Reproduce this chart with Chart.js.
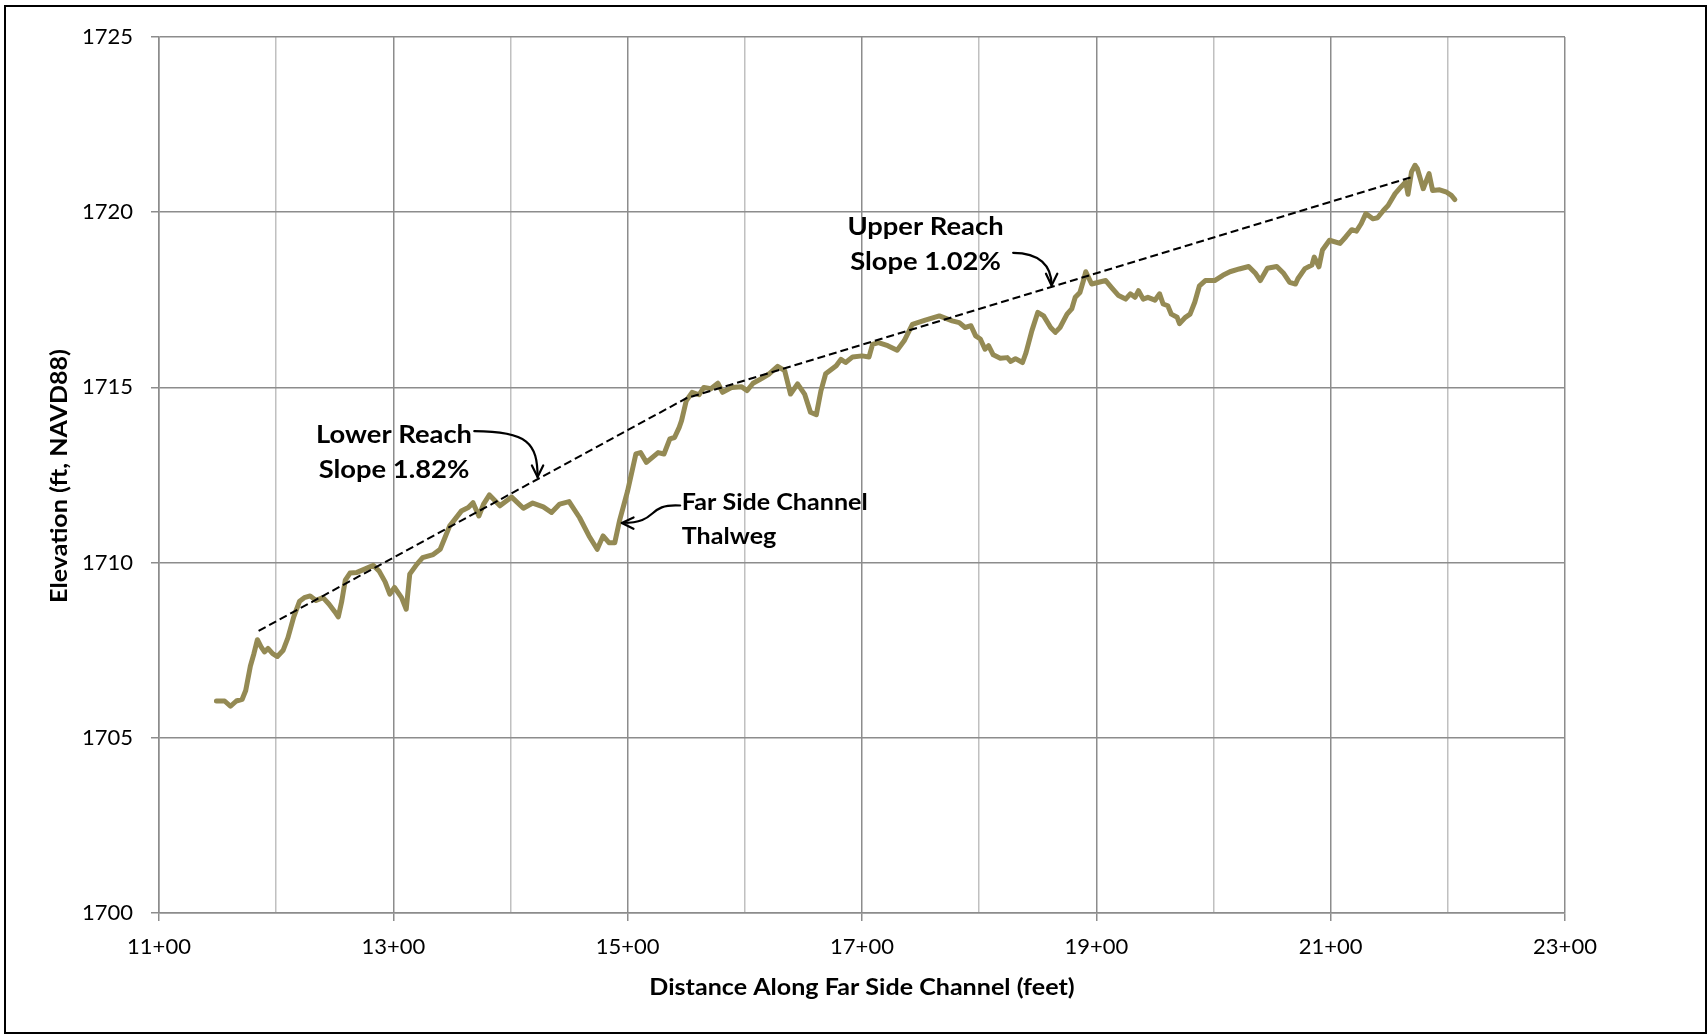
<!DOCTYPE html>
<html>
<head>
<meta charset="utf-8">
<title>Far Side Channel Thalweg Profile</title>
<script src="https://cdn.jsdelivr.net/npm/chart.js@4.4.1/dist/chart.umd.min.js"></script>
<style>
  html, body { margin: 0; padding: 0; background: #fff; }
  canvas { display: block; }
</style>
</head>
<body>
<canvas id="profile" width="1708" height="1035"></canvas>
<script>
// Surveyed thalweg: distance along channel (ft) and bed elevation (ft, NAVD88)
const distances = [
  1149, 1156, 1161, 1166, 1171, 1174, 1178, 1181, 1184, 1187,
  1190, 1193, 1197, 1201, 1206, 1210, 1215, 1220, 1224, 1229,
  1234, 1240, 1245, 1250, 1253, 1256, 1259, 1263, 1269, 1276,
  1283, 1288, 1293, 1297, 1301, 1307, 1311, 1314, 1320, 1325,
  1334, 1340, 1344, 1348, 1358, 1364, 1368, 1373, 1377, 1382,
  1391, 1401, 1411, 1419, 1428, 1435, 1442, 1450, 1459, 1467,
  1474, 1479, 1484, 1489, 1493, 1500, 1507, 1511, 1516, 1526,
  1531, 1536, 1540, 1544, 1546, 1550, 1555, 1561, 1565, 1571,
  1577, 1581, 1589, 1597, 1602, 1607, 1612, 1616, 1621, 1628,
  1634, 1639, 1645, 1651, 1656, 1661, 1665, 1669, 1678, 1682,
  1686, 1692, 1700, 1706, 1709, 1714, 1722, 1730, 1736, 1743,
  1754, 1766, 1777, 1783, 1788, 1793, 1797, 1801, 1805, 1808,
  1812, 1818, 1824, 1827, 1831, 1837, 1840, 1845, 1850, 1855,
  1861, 1865, 1869, 1875, 1879, 1882, 1886, 1889, 1891, 1896,
  1902, 1908, 1913, 1919, 1925, 1929, 1933, 1936, 1940, 1944,
  1950, 1954, 1957, 1961, 1964, 1969, 1971, 1976, 1980, 1984,
  1988, 1993, 2001, 2008, 2014, 2022, 2030, 2036, 2040, 2046,
  2054, 2060, 2065, 2070, 2072, 2078, 2084, 2086, 2090, 2093,
  2099, 2108, 2113, 2118, 2122, 2126, 2130, 2136, 2140, 2145,
  2149, 2155, 2160, 2164, 2166, 2169, 2172, 2174, 2179, 2184,
  2187, 2193, 2199, 2203, 2206
];
const elevations = [
  1706.05, 1706.05, 1705.90, 1706.05, 1706.10, 1706.35, 1707.05, 1707.40, 1707.80, 1707.60,
  1707.45, 1707.55, 1707.40, 1707.32, 1707.50, 1707.85, 1708.45, 1708.90, 1709.00, 1709.05,
  1708.92, 1709.00, 1708.82, 1708.60, 1708.45, 1708.90, 1709.50, 1709.70, 1709.72, 1709.82,
  1709.92, 1709.75, 1709.45, 1709.10, 1709.29, 1709.00, 1708.67, 1709.67, 1709.95, 1710.14,
  1710.23, 1710.38, 1710.71, 1711.04, 1711.47, 1711.57, 1711.71, 1711.33, 1711.67, 1711.93,
  1711.62, 1711.87, 1711.55, 1711.70, 1711.59, 1711.43, 1711.67, 1711.74, 1711.28, 1710.76,
  1710.38, 1710.76, 1710.57, 1710.57, 1711.19, 1712.05, 1713.10, 1713.14, 1712.86, 1713.14,
  1713.10, 1713.53, 1713.57, 1713.86, 1714.05, 1714.62, 1714.86, 1714.79, 1715.00, 1714.96,
  1715.12, 1714.86, 1715.00, 1715.02, 1714.91, 1715.12, 1715.21, 1715.29, 1715.39, 1715.60,
  1715.48, 1714.81, 1715.10, 1714.81, 1714.29, 1714.22, 1714.91, 1715.39, 1715.62, 1715.80,
  1715.71, 1715.87, 1715.90, 1715.87, 1716.23, 1716.28, 1716.19, 1716.06, 1716.33, 1716.80,
  1716.92, 1717.04, 1716.90, 1716.85, 1716.71, 1716.76, 1716.47, 1716.38, 1716.09, 1716.19,
  1715.93, 1715.83, 1715.85, 1715.74, 1715.82, 1715.71, 1715.99, 1716.62, 1717.14, 1717.04,
  1716.71, 1716.57, 1716.71, 1717.09, 1717.24, 1717.57, 1717.71, 1718.05, 1718.30, 1717.95,
  1718.00, 1718.05, 1717.85, 1717.62, 1717.52, 1717.67, 1717.57, 1717.76, 1717.52, 1717.57,
  1717.49, 1717.67, 1717.38, 1717.33, 1717.09, 1717.00, 1716.82, 1717.00, 1717.09, 1717.43,
  1717.90, 1718.05, 1718.05, 1718.20, 1718.30, 1718.38, 1718.45, 1718.25, 1718.05, 1718.40,
  1718.45, 1718.25, 1718.00, 1717.95, 1718.10, 1718.39, 1718.49, 1718.72, 1718.44, 1718.92,
  1719.20, 1719.11, 1719.30, 1719.50, 1719.46, 1719.67, 1719.96, 1719.81, 1719.84, 1720.05,
  1720.19, 1720.53, 1720.72, 1720.86, 1720.51, 1721.15, 1721.34, 1721.24, 1720.67, 1721.10,
  1720.62, 1720.64, 1720.57, 1720.48, 1720.36
];

// Reach slope lines: lower reach 1.82 %, upper reach 1.02 %
const slopeDistances = [1185, 1550, 2170];
const slopeElevations = [1708.05, 1714.69, 1721.01];

// Station labels shown on every other 100-ft gridline
const stationValues = [1100, 1300, 1500, 1700, 1900, 2100, 2300];
const stationLabels = ['11+00', '13+00', '15+00', '17+00', '19+00', '21+00', '23+00'];

const xTitle = 'Distance Along Far Side Channel (feet)';
const yTitle = 'Elevation (ft, NAVD88)';

// Callout text and leader arrows, anchored in data units
const callouts = [
  { lines: ['Lower Reach', 'Slope 1.82%'], x: 1300.6, y: [1713.40, 1712.41], align: 'center', size: 24 },
  { lines: ['Upper Reach', 'Slope 1.02%'], x: 1754.2, y: [1719.34, 1718.34], align: 'center', size: 24 },
  { lines: ['Far Side Channel', 'Thalweg'], x: 1546.2, y: [1711.51, 1710.54], align: 'left', size: 22 }
];
const leaders = [
  { from: [1369.1, 1713.75], c1: [1415.0, 1713.75], c2: [1423.1, 1713.40], to: [1423.1, 1712.44] },
  { from: [1829.0, 1718.84], c1: [1851.2, 1718.84], c2: [1861.9, 1718.48], to: [1861.8, 1717.91] },
  { from: [1544.8, 1711.63], c1: [1514.9, 1711.69], c2: [1527.7, 1711.12], to: [1495.0, 1711.13] }
];

const GRID_MAJOR = '#8c8c8c';
const GRID_MINOR = '#c0c0c0';
const FONT = 'Lato, "Liberation Sans", sans-serif';
const BOLD_STRETCH = 1.14;   // widen bold faces to the heavier headline proportions

function wideText(ctx, text, x, y, align, rotate) {
  ctx.save();
  ctx.translate(x, y);
  if (rotate) ctx.rotate(rotate);
  ctx.scale(BOLD_STRETCH, 1);
  ctx.textAlign = align;
  ctx.fillText(text, 0, 0);
  ctx.restore();
}

const calloutPlugin = {
  id: 'callouts',
  afterDatasetsDraw(chart) {
    const { ctx, scales: { x, y } } = chart;
    ctx.save();
    ctx.fillStyle = '#000';
    ctx.textBaseline = 'alphabetic';
    callouts.forEach(c => {
      ctx.font = `bold ${c.size}px ${FONT}`;
      c.lines.forEach((t, i) => {
        wideText(ctx, t, x.getPixelForValue(c.x), y.getPixelForValue(c.y[i]), c.align, 0);
      });
    });
    ctx.strokeStyle = '#000';
    ctx.lineWidth = 2.2;
    ctx.lineCap = 'round';
    ctx.lineJoin = 'round';
    leaders.forEach(a => {
      const p = pt => [x.getPixelForValue(pt[0]), y.getPixelForValue(pt[1])];
      const [x0, y0] = p(a.from), [x1, y1] = p(a.c1), [x2, y2] = p(a.c2), [x3, y3] = p(a.to);
      ctx.beginPath();
      ctx.moveTo(x0, y0);
      ctx.bezierCurveTo(x1, y1, x2, y2, x3, y3);
      ctx.stroke();
      const ang = Math.atan2(y3 - y2, x3 - x2);
      const len = 13, spread = 0.45;
      ctx.beginPath();
      ctx.moveTo(x3 - len * Math.cos(ang - spread), y3 - len * Math.sin(ang - spread));
      ctx.lineTo(x3, y3);
      ctx.lineTo(x3 - len * Math.cos(ang + spread), y3 - len * Math.sin(ang + spread));
      ctx.stroke();
    });
    ctx.restore();
  },
  afterDraw(chart) {
    const { ctx, chartArea } = chart;
    ctx.save();
    // axis titles
    ctx.fillStyle = '#000';
    ctx.font = `bold 22px ${FONT}`;
    ctx.textBaseline = 'middle';
    wideText(ctx, xTitle, (chartArea.left + chartArea.right) / 2, 988, 'center', 0);
    wideText(ctx, yTitle, 60, (chartArea.top + chartArea.bottom) / 2 + 1, 'center', -Math.PI / 2);
    // outer frame
    ctx.strokeStyle = '#000';
    ctx.lineWidth = 2;
    ctx.strokeRect(5, 6, 1701, 1027);
    ctx.restore();
  }
};

const backgroundPlugin = {
  id: 'whiteBackground',
  beforeDraw(chart) {
    const ctx = chart.ctx;
    ctx.save();
    ctx.fillStyle = '#fff';
    ctx.fillRect(0, 0, chart.width, chart.height);
    ctx.restore();
  }
};

const isLabeled = v => stationValues.includes(Math.round(v));

new Chart(document.getElementById('profile'), {
  type: 'scatter',
  data: {
    datasets: [
      {
        label: 'Reach Slope',
        data: slopeDistances.map((d, i) => ({ x: d, y: slopeElevations[i] })),
        showLine: true,
        borderColor: '#000',
        borderWidth: 2,
        borderDash: [8, 4],
        pointRadius: 0,
        fill: false
      },
      {
        label: 'Far Side Channel Thalweg',
        data: distances.map((d, i) => ({ x: d, y: elevations[i] })),
        showLine: true,
        borderColor: '#948A54',
        borderWidth: 5,
        borderJoinStyle: 'round',
        borderCapStyle: 'round',
        pointRadius: 0,
        tension: 0,
        fill: false
      }
    ]
  },
  options: {
    responsive: false,
    animation: false,
    events: [],
    layout: { padding: { left: 0, top: 37, right: 143, bottom: 0 } },
    plugins: { legend: { display: false }, tooltip: { enabled: false } },
    scales: {
      x: {
        type: 'linear',
        min: 1100,
        max: 2300,
        afterFit(scale) { scale.height = 122; },
        ticks: {
          stepSize: 100,
          autoSkip: false,
          maxRotation: 0,
          padding: 13,
          color: '#000',
          font: { family: FONT, size: 22 },
          callback: v => {
            const i = stationValues.indexOf(Math.round(v));
            return i >= 0 ? stationLabels[i] : '';
          }
        },
        grid: {
          color: c => (c.tick && isLabeled(c.tick.value)) ? GRID_MAJOR : GRID_MINOR,
          lineWidth: 1.5,
          tickLength: 8,
          tickColor: c => (c.tick && isLabeled(c.tick.value)) ? GRID_MAJOR : 'rgba(0,0,0,0)'
        },
        border: { color: GRID_MAJOR, width: 1.5 },
        title: { display: false, text: xTitle }
      },
      y: {
        min: 1700,
        max: 1725,
        afterFit(scale) { scale.width = 159; },
        ticks: {
          stepSize: 5,
          padding: 18,
          color: '#000',
          font: { family: FONT, size: 22 },
          callback: v => String(v)
        },
        grid: { color: GRID_MAJOR, lineWidth: 1.5, tickLength: 8, tickColor: GRID_MAJOR },
        border: { color: GRID_MAJOR, width: 1.5 },
        title: { display: false, text: yTitle }
      }
    }
  },
  plugins: [backgroundPlugin, calloutPlugin]
});
</script>
</body>
</html>
